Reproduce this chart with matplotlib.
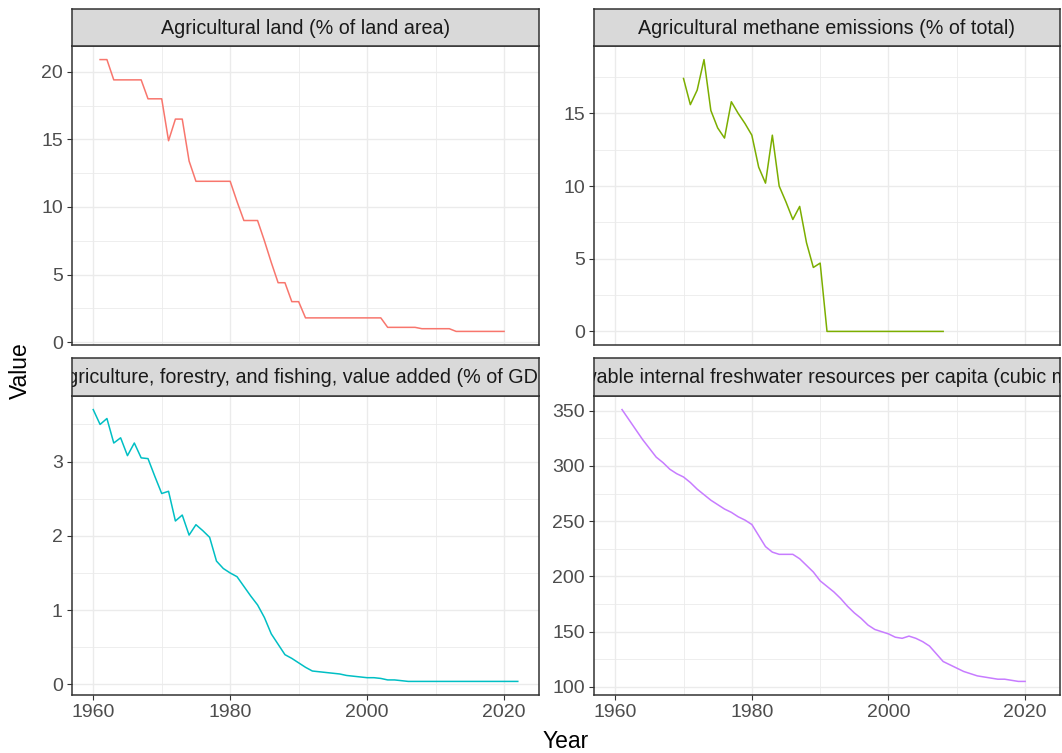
import matplotlib
matplotlib.use("Agg")
import matplotlib.pyplot as plt
from matplotlib.ticker import MultipleLocator

plt.rcParams['font.family'] = ['Liberation Sans', 'DejaVu Sans']

# facet titles
titles = [
    "Agricultural land (% of land area)",
    "Agricultural methane emissions (% of total)",
    "Agriculture, forestry, and fishing, value added (% of GDP)",
    "Renewable internal freshwater resources per capita (cubic meters)",
]

# series
land_years = list(range(1961, 2021))
land_vals = [20.9, 20.9, 19.4, 19.4, 19.4, 19.4, 19.4, 18.0, 18.0, 18.0,
             14.9, 16.5, 16.5, 13.4, 11.9, 11.9, 11.9, 11.9, 11.9, 11.9,
             10.4, 9.0, 9.0, 9.0, 7.5, 5.9, 4.4, 4.4, 3.0, 3.0,
             1.8, 1.8, 1.8, 1.8, 1.8, 1.8, 1.8, 1.8, 1.8, 1.8, 1.8, 1.8,
             1.1, 1.1, 1.1, 1.1, 1.1,
             1.0, 1.0, 1.0, 1.0, 1.0,
             0.8, 0.8, 0.8, 0.8, 0.8, 0.8, 0.8, 0.8]

methane_years = list(range(1970, 2009))
methane_vals = [17.4, 15.6, 16.6, 18.7, 15.2, 14.0, 13.3, 15.8, 15.0, 14.3,
                13.5, 11.3, 10.2, 13.5, 10.0, 8.9, 7.7, 8.6, 6.1, 4.4, 4.7,
                0, 0, 0, 0, 0, 0, 0, 0, 0, 0, 0, 0, 0, 0, 0, 0, 0, 0]

gdp_years = list(range(1960, 2023))
gdp_vals = [3.70, 3.50, 3.58, 3.25, 3.32, 3.08, 3.25, 3.05, 3.04, 2.80,
            2.57, 2.60, 2.20, 2.28, 2.01, 2.15, 2.07, 1.98, 1.66, 1.56,
            1.50, 1.45, 1.32, 1.19, 1.07, 0.90, 0.68, 0.54, 0.40, 0.35,
            0.29, 0.23, 0.18, 0.17, 0.16, 0.15, 0.14, 0.12, 0.11, 0.10,
            0.09, 0.09, 0.08, 0.06, 0.06, 0.05,
            0.04, 0.04, 0.04, 0.04, 0.04, 0.04, 0.04, 0.04, 0.04, 0.04,
            0.04, 0.04, 0.04, 0.04, 0.04, 0.04, 0.04]

water_years = list(range(1961, 2021))
water_vals = [351, 342, 333, 324, 316, 308, 303, 297, 293, 290,
              285, 279, 274, 269, 265, 261, 258, 254, 251, 247,
              237, 227, 222, 220, 220, 220, 216, 210, 204, 196,
              191, 186, 180, 173, 167, 162, 156, 152, 150, 148,
              145, 144, 146, 144, 141, 137, 130, 123, 120, 117,
              114, 112, 110, 109, 108, 107, 107, 106, 105, 105]

series = [(land_years, land_vals), (methane_years, methane_vals),
          (gdp_years, gdp_vals), (water_years, water_vals)]
colors = ["#F8766D", "#7CAE00", "#00BFC4", "#C77CFF"]
y_steps = [5, 5, 1, 50]

W, H = 1062, 753
fig = plt.figure(figsize=(W / 100, H / 100), dpi=100)


def px_axes(x0, y0, x1, y1):
    return fig.add_axes([x0 / W, 1 - y1 / H, (x1 - x0) / W, (y1 - y0) / H])


def expand(lo, hi):
    pad = (hi - lo) * 0.05
    return lo - pad, hi + pad


all_years = land_years + methane_years + gdp_years + water_years
xlim = expand(min(all_years), max(all_years))

# pixel boxes: (left, strip top, panel top, right, panel bottom)
boxes = [(72, 9, 46, 539, 345), (594, 9, 46, 1060, 345),
         (72, 358, 396, 539, 695), (594, 358, 396, 1060, 695)]

for i, (x0, s0, p0, x1, p1) in enumerate(boxes):
    ax = px_axes(x0, p0, x1, p1)
    yrs, vals = series[i]
    ax.plot(yrs, vals, color=colors[i], lw=1.1, zorder=3)
    ax.set_xlim(*xlim)
    ax.set_ylim(*expand(min(vals), max(vals)))
    ax.xaxis.set_major_locator(MultipleLocator(20))
    ax.xaxis.set_minor_locator(MultipleLocator(10))
    ax.yaxis.set_major_locator(MultipleLocator(y_steps[i]))
    ax.yaxis.set_minor_locator(MultipleLocator(y_steps[i] / 2))
    ax.grid(which='major', color='#EBEBEB', lw=1.0)
    ax.grid(which='minor', color='#EBEBEB', lw=0.6)
    ax.set_axisbelow(True)
    for sp in ax.spines.values():
        sp.set_color('#333333')
        sp.set_linewidth(1.1)
    ax.tick_params(which='major', length=3.6, width=0.8, color='#333333',
                   labelcolor='#4D4D4D', labelsize=14, pad=3)
    ax.tick_params(which='minor', length=0)
    if i < 2:
        ax.tick_params(axis='x', which='major', length=0, labelbottom=False)
    # strip
    st = px_axes(x0, s0, x1, p0)
    st.set_facecolor('#D9D9D9')
    st.set_xticks([])
    st.set_yticks([])
    for sp in st.spines.values():
        sp.set_color('#333333')
        sp.set_linewidth(1.1)
    st.text(0.5, 0.48, titles[i], ha='center', va='center', fontsize=14.2,
            color='#1A1A1A', transform=st.transAxes, clip_on=True)

fig.text(566 / W, 1 - 742 / H, "Year", ha='center', va='center', fontsize=16.5)
fig.text(20 / W, 1 - 371 / H, "Value", ha='center', va='center',
         rotation=90, fontsize=16.5)

fig.savefig("out.png", dpi=100)
